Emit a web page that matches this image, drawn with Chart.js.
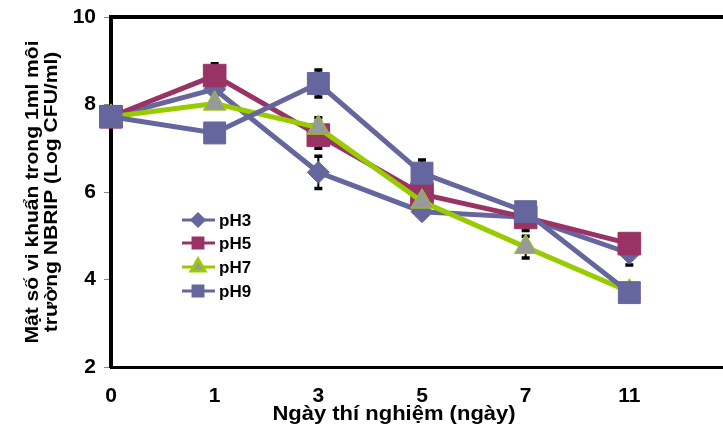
<!DOCTYPE html>
<html>
<head>
<meta charset="utf-8">
<script src="https://cdn.jsdelivr.net/npm/chart.js@4"></script>
<style>
  html, body { margin: 0; padding: 0; background: #fff; overflow: hidden; }
  canvas { display: block; }
</style>
</head>
<body>
<canvas id="chart" width="750" height="434"></canvas>
<script>
const dayLabels = ["0", "1", "3", "5", "7", "11"];
const seriesNames = ["pH3", "pH5", "pH7", "pH9"];

const ph3 = [7.72, 8.35, 6.45, 5.55, 5.42, 4.6];
const ph5 = [7.72, 8.66, 7.3, 5.95, 5.42, 4.82];
const ph7 = [7.72, 8.02, 7.47, 5.78, 4.74, 3.72];
const ph9 = [7.72, 7.35, 8.48, 6.43, 5.55, 3.7];

const ph3Err = [0, 0.1, 0.37, 0.1, 0.1, 0.27];
const ph5Err = [0, 0.27, 0.3, 0.1, 0.3, 0.1];
const ph7Err = [0, 0.1, 0.23, 0.1, 0.25, 0.05];
const ph9Err = [0, 0.1, 0.31, 0.3, 0.12, 0.1];

const yTicks = [2, 4, 6, 8, 10];

const FONT = "'Liberation Sans', Arial, sans-serif";

function toPoints(arr) {
    return arr.map((v, i) => ({ x: i, y: v }));
}

// error bars, drawn under the markers
const errorBars = {
    id: "errorBars",
    beforeDatasetsDraw(chart) {
        const ctx = chart.ctx;
        const y = chart.scales.y;
        ctx.save();
        ctx.strokeStyle = "#000";
        chart.data.datasets.forEach((ds, di) => {
            const meta = chart.getDatasetMeta(di);
            meta.data.forEach((pt, i) => {
                const e = ds.errors[i];
                if (!e) return;
                const top = y.getPixelForValue(ds.data[i].y + e);
                const bot = y.getPixelForValue(ds.data[i].y - e);
                ctx.lineWidth = 2;
                ctx.beginPath();
                ctx.moveTo(pt.x, top);
                ctx.lineTo(pt.x, bot);
                ctx.stroke();
                ctx.lineWidth = 3.5;
                ctx.beginPath();
                ctx.moveTo(pt.x - 4, top);
                ctx.lineTo(pt.x + 4, top);
                ctx.moveTo(pt.x - 4, bot);
                ctx.lineTo(pt.x + 4, bot);
                ctx.stroke();
            });
        });
        ctx.restore();
    }
};

// frame top, axis titles and the inset legend
const extras = {
    id: "extras",
    afterDraw(chart) {
        const ctx = chart.ctx;
        const area = chart.chartArea;
        ctx.save();
        ctx.strokeStyle = "#000";
        ctx.lineWidth = 4;
        ctx.beginPath();
        ctx.moveTo(area.left - 2, area.top);
        ctx.lineTo(area.right, area.top);
        ctx.stroke();

        ctx.fillStyle = "#000";
        ctx.textAlign = "center";
        ctx.textBaseline = "middle";

        ctx.save();
        ctx.translate(394, 414);
        ctx.scale(1.1, 1);
        ctx.font = "bold 20px " + FONT;
        ctx.fillText("Ngày thí nghiệm (ngày)", 0, 0);
        ctx.restore();

        ctx.save();
        ctx.translate(43, (area.top + area.bottom) / 2);
        ctx.rotate(-Math.PI / 2);
        ctx.scale(1.17, 1);
        ctx.font = "bold 18px " + FONT;
        ctx.fillText("Mật số vi khuẩn trong 1ml môi", 0, -9.5);
        ctx.fillText("trường NBRIP (Log CFU/ml)", 0, 9.5);
        ctx.restore();

        const rows = [220, 243, 267, 291];
        const legendSizes = [6, 7, 8, 7];
        chart.data.datasets.forEach((ds, i) => {
            const yy = rows[i];
            ctx.strokeStyle = ds.borderColor;
            ctx.lineWidth = 3;
            ctx.beginPath();
            ctx.moveTo(182, yy);
            ctx.lineTo(215, yy);
            ctx.stroke();
            ctx.fillStyle = ds.pointBackgroundColor;
            ctx.strokeStyle = ds.pointBorderColor;
            Chart.helpers.drawPoint(ctx, {
                pointStyle: ds.pointStyle,
                radius: legendSizes[i],
                rotation: 0,
                borderWidth: 1
            }, 198, yy);
            ctx.fillStyle = "#000";
            ctx.font = "bold 17px " + FONT;
            ctx.textAlign = "left";
            ctx.fillText(ds.label, 219, yy + 1);
        });
        ctx.restore();
    }
};

const purple = "#66669e";

new Chart(document.getElementById("chart"), {
    type: "line",
    data: {
        datasets: [
            {
                label: seriesNames[0], data: toPoints(ph3), errors: ph3Err,
                borderColor: purple, backgroundColor: purple,
                pointBackgroundColor: purple, pointBorderColor: purple,
                pointStyle: "rectRot", pointRadius: 11, order: 4
            },
            {
                label: seriesNames[1], data: toPoints(ph5), errors: ph5Err,
                borderColor: "#993366", backgroundColor: "#993366",
                pointBackgroundColor: "#993366", pointBorderColor: "#993366",
                pointStyle: "rect", pointRadius: 16, order: 3
            },
            {
                label: seriesNames[2], data: toPoints(ph7), errors: ph7Err,
                borderColor: "#99cc00", backgroundColor: "#99cc00",
                pointBackgroundColor: "#999999", pointBorderColor: "#99cc00",
                pointStyle: "triangle", pointRadius: 13, order: 2
            },
            {
                label: seriesNames[3], data: toPoints(ph9), errors: ph9Err,
                borderColor: purple, backgroundColor: purple,
                pointBackgroundColor: purple, pointBorderColor: purple,
                pointStyle: "rect", pointRadius: 15.5, order: 1
            }
        ]
    },
    options: {
        responsive: false,
        animation: false,
        layout: { padding: { left: 0, right: 13, top: 17, bottom: 0 } },
        elements: {
            line: { borderWidth: 5, tension: 0 },
            point: { borderWidth: 1, hoverRadius: 11 }
        },
        datasets: { line: { clip: false } },
        plugins: {
            legend: { display: false },
            tooltip: { enabled: false }
        },
        scales: {
            x: {
                type: "linear",
                min: 0,
                max: 6,
                afterBuildTicks(scale) {
                    scale.ticks = dayLabels.map((_, i) => ({ value: i }));
                },
                afterFit(scale) {
                    scale.height = 67;
                    scale.paddingLeft = 0;
                    scale.paddingRight = 0;
                },
                grid: { display: false },
                border: { display: true, color: "#000", width: 3 },
                ticks: {
                    color: "#000",
                    font: { family: FONT, size: 21, weight: "bold" },
                    padding: 9,
                    maxRotation: 0,
                    autoSkip: false,
                    callback: (v) => dayLabels[v]
                }
            },
            y: {
                min: 2,
                max: 10,
                afterBuildTicks(scale) {
                    scale.ticks = yTicks.map(v => ({ value: v }));
                },
                afterFit(scale) {
                    scale.width = 111;
                    scale.paddingTop = 0;
                    scale.paddingBottom = 0;
                },
                grid: {
                    drawOnChartArea: false,
                    drawTicks: true,
                    tickLength: 7,
                    tickColor: "#888",
                    lineWidth: 1
                },
                border: { display: true, color: "#000", width: 4 },
                ticks: {
                    color: "#000",
                    font: { family: FONT, size: 21, weight: "bold" },
                    padding: 8
                }
            }
        }
    },
    plugins: [errorBars, extras]
});
</script>
</body>
</html>
